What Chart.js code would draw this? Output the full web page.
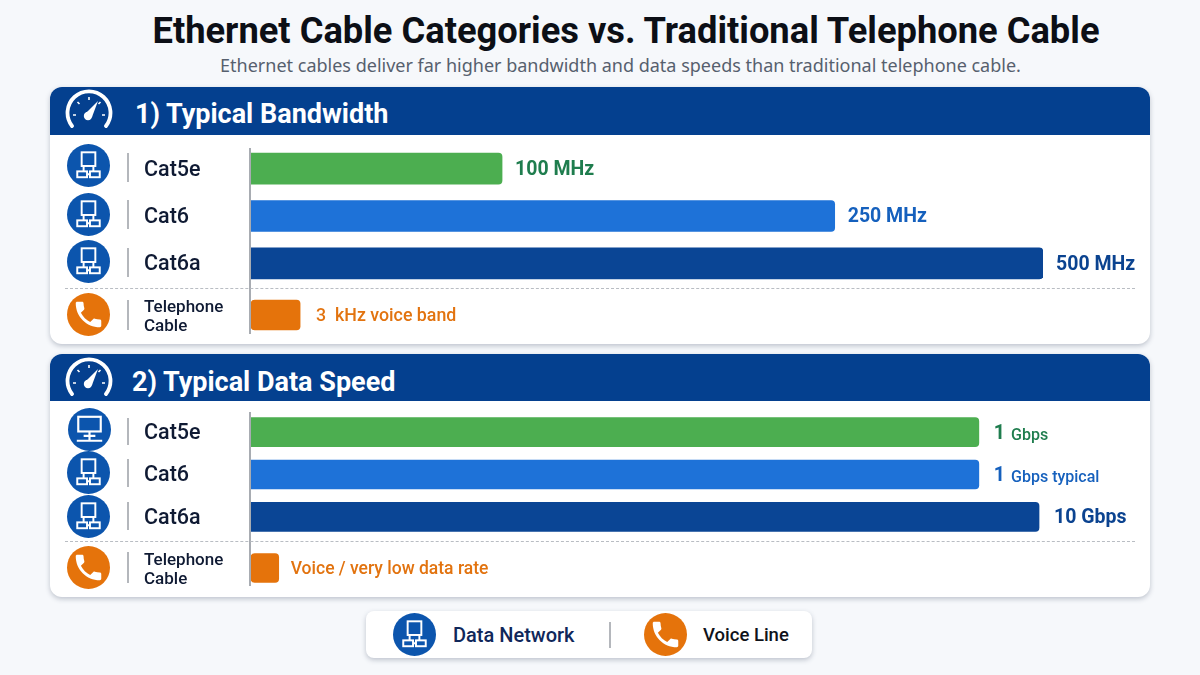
<!DOCTYPE html>
<html>
<head>
<meta charset="utf-8">
<title>Ethernet Cable Categories vs. Traditional Telephone Cable</title>
<script src="https://cdn.jsdelivr.net/npm/chart.js@4"></script>
<style>
  html, body { margin: 0; padding: 0; }
  body { width: 1200px; height: 675px; background: #f6f8fb; position: relative; overflow: hidden; font-family: Roboto, sans-serif; }
  h1 { position: absolute; left: 0; width: 1252px; top: 7px; margin: 0; text-align: center; font-size: 36.3px; line-height: 48px; font-weight: 700; color: #0c0f16; }
  .sub { position: absolute; left: 0; width: 1241px; top: 53px; text-align: center; font-family: "Noto Sans", sans-serif; font-size: 18px; line-height: 24px; color: #56606e; }
  .card { position: absolute; left: 50px; width: 1100px; background: #fff; border-radius: 12px; box-shadow: 0 2px 5px rgba(70,85,110,.32); }
  .head { position: absolute; left: 0; top: 0; width: 1100px; background: #04408f; border-radius: 12px 12px 0 0; color: #fff; font-size: 27px; font-weight: 700; }
  .head span { position: absolute; top: 0; }
  canvas { position: absolute; }
  .axis { position: absolute; left: 249px; width: 2px; background: #a8acb2; }
  .dash { position: absolute; left: 65px; width: 1070px; border-top: 1px dashed #b9bdc3; }
  .tick { position: absolute; left: 127px; width: 1.5px; background: #b4b7bc; }
  .legend { position: absolute; left: 366px; top: 611px; width: 446px; height: 47px; background: #fff; border-radius: 8px; box-shadow: 0 2px 5px rgba(70,85,110,.32); }
  .legtext { position: absolute; top: 622px; line-height: 26px; font-size: 20px; font-weight: 500; }
  svg { position: absolute; }
</style>
</head>
<body>
<h1>Ethernet Cable Categories vs. Traditional Telephone Cable</h1>
<div class="sub">Ethernet cables deliver far higher bandwidth and data speeds than traditional telephone cable.</div>

<div class="card" style="top:87px;height:257px"><div class="head" style="height:48px;line-height:54px"><span style="left:85px">1) Typical Bandwidth</span></div></div>
<div class="card" style="top:354px;height:243px"><div class="head" style="height:47px;line-height:56px"><span style="left:82px">2) Typical Data Speed</span></div></div>

<div class="axis" style="top:148px;height:186px"></div>
<div class="axis" style="top:412px;height:174px"></div>
<div class="dash" style="top:288px"></div>
<div class="dash" style="top:541px"></div>

<canvas id="bandNet" width="1006" height="142" style="left:144px;top:145px"></canvas>
<canvas id="bandTel" width="1006" height="46" style="left:144px;top:292px"></canvas>
<canvas id="speedNet" width="1006" height="127" style="left:144px;top:411px"></canvas>
<canvas id="speedTel" width="1006" height="46" style="left:144px;top:545px"></canvas>

<div class="legend"></div>
<div class="legtext" style="left:453px;color:#10275a">Data Network</div>
<div class="legtext" style="left:703px;color:#10131a;font-size:18.5px">Voice Line</div>
<div class="tick" style="left:609px;top:622px;height:26px"></div>

<script>
// bar lengths are display lengths as drawn (longest axis = 100), the picture is not to scale
const netCategories = ["Cat5e", "Cat6", "Cat6a"];
const telCategories = [["Telephone", "Cable"]];

const bandNetLengths = [31.7, 73.7, 100];
const bandTelLengths = [6.2];
const speedNetLengths = [91.9, 91.9, 99.5];
const speedTelLengths = [3.5];

const bandNetMain = ["100 MHz", "250 MHz", "500 MHz"];
const bandNetSub = ["", "", ""];
const bandTelMain = ["3  kHz voice band"];
const bandTelSub = [""];
const speedNetMain = ["1", "1", "10 Gbps"];
const speedNetSub = ["Gbps", "Gbps typical", ""];
const speedTelMain = ["Voice / very low data rate"];
const speedTelSub = [""];

const netBarColors = ["#4cae50", "#1e72d8", "#0a4595"];
const telBarColors = ["#e5730b"];
const netTextColors = ["#1f7d4e", "#1560bd", "#0b4390"];
const telTextColors = ["#e2730f"];

const FONT = 'Roboto, sans-serif';

// draws the text to the right of each bar
const valueLabels = {
    id: "valueLabels",
    afterDatasetsDraw(chart, args, opts) {
        const ctx = chart.ctx;
        const bars = chart.getDatasetMeta(0).data;
        ctx.save();
        ctx.textBaseline = "middle";
        ctx.textAlign = "left";
        bars.forEach((bar, i) => {
            let x = bar.x + opts.gap;
            const y = bar.y + 1.5;
            ctx.fillStyle = opts.colors[i];
            ctx.font = opts.weight + " " + opts.size + "px " + FONT;
            ctx.fillText(opts.main[i], x, y);
            if (opts.sub[i]) {
                x += ctx.measureText(opts.main[i]).width + 6;
                ctx.font = "500 16px " + FONT;
                ctx.fillText(opts.sub[i], x, y + 2);
            }
        });
        ctx.restore();
    }
};

function makeChart(id, labels, lengths, barColors, cfg) {
    return new Chart(document.getElementById(id), {
        type: "bar",
        data: {
            labels: labels,
            datasets: [{
                data: lengths,
                backgroundColor: barColors,
                barThickness: cfg.thickness,
                borderRadius: 4,
                borderSkipped: cfg.skipped
            }]
        },
        plugins: [valueLabels],
        options: {
            indexAxis: "y",
            responsive: false,
            animation: false,
            layout: { padding: { left: 0, right: 107, top: 0, bottom: 0 } },
            plugins: {
                legend: { display: false },
                tooltip: { enabled: false },
                valueLabels: {
                    main: cfg.main, sub: cfg.sub, colors: cfg.textColors,
                    size: cfg.size, weight: cfg.weight, gap: cfg.gap
                }
            },
            scales: {
                x: { display: false, min: 0, max: 100 },
                y: {
                    grid: { display: false },
                    border: { display: false },
                    afterFit(scale) {
                        // keep the rows filling the whole canvas height
                        scale.width = 107;
                        scale.paddingTop = 0;
                        scale.paddingBottom = 0;
                    },
                    afterUpdate(scale) {
                        // names sit a little below the middle of the bar
                        scale.getPixelForTick = function (i) {
                            return Object.getPrototypeOf(this).getPixelForTick.call(this, i) + cfg.tickShift;
                        };
                    },
                    ticks: {
                        autoSkip: false,
                        crossAlign: "far",
                        padding: 0,
                        color: "#0f1a33",
                        font: { family: FONT, size: cfg.tickSize, weight: "500", lineHeight: 1.12 }
                    }
                }
            }
        }
    });
}

makeChart("bandNet", netCategories, bandNetLengths, netBarColors, {
    thickness: 31, skipped: "start", main: bandNetMain, sub: bandNetSub, textColors: netTextColors,
    size: 19.5, weight: "700", gap: 13, tickSize: 21.5, tickShift: 1.5
});
makeChart("bandTel", telCategories, bandTelLengths, telBarColors, {
    thickness: 30, skipped: false, main: bandTelMain, sub: bandTelSub, textColors: telTextColors,
    size: 17.8, weight: "500", gap: 16, tickSize: 17, tickShift: 2.5
});
makeChart("speedNet", netCategories, speedNetLengths, netBarColors, {
    thickness: 29, skipped: "start", main: speedNetMain, sub: speedNetSub, textColors: netTextColors,
    size: 19.5, weight: "700", gap: 15, tickSize: 21.5, tickShift: 1.5
});
makeChart("speedTel", telCategories, speedTelLengths, telBarColors, {
    thickness: 29, skipped: false, main: speedTelMain, sub: speedTelSub, textColors: telTextColors,
    size: 17.5, weight: "500", gap: 12, tickSize: 17, tickShift: 2.5
});

// icons
const NET = '<rect x="15" y="8.5" width="14" height="14" fill="none" stroke="#fff" stroke-width="2"/>' +
    '<path d="M17 22.5V28M27 22.5V28M20.5 31H23.5" stroke="#fff" stroke-width="2" fill="none"/>' +
    '<rect x="10.5" y="28" width="10" height="6" fill="none" stroke="#fff" stroke-width="2"/>' +
    '<rect x="23.5" y="28" width="10" height="6" fill="none" stroke="#fff" stroke-width="2"/>';
const MON = '<rect x="10.5" y="9" width="23" height="15" fill="none" stroke="#fff" stroke-width="2.2"/>' +
    '<path d="M22 24V33M16 28.5H28M9 33.5H35" stroke="#fff" stroke-width="2.2" fill="none"/>';
const PHONE = '<g transform="translate(4.6 4.6) scale(1.45)"><path fill="#fff" d="M6.62 10.79c1.44 2.83 3.76 5.14 6.59 6.59l2.2-2.2c.27-.27.67-.36 1.02-.24 1.12.37 2.33.57 3.57.57.55 0 1 .45 1 1V20c0 .55-.45 1-1 1-9.39 0-17-7.61-17-17 0-.55.45-1 1-1h3.5c.55 0 1 .45 1 1 0 1.25.2 2.45.57 3.57.11.35.03.74-.25 1.02l-2.2 2.2z"/></g>';

function addIcon(kind, cx, cy, r) {
    const fill = kind === PHONE ? "#e5730b" : "#0c55ad";
    const svg = document.createElementNS("http://www.w3.org/2000/svg", "svg");
    svg.setAttribute("viewBox", "0 0 44 44");
    svg.setAttribute("width", r * 2);
    svg.setAttribute("height", r * 2);
    svg.style.left = (cx - r) + "px";
    svg.style.top = (cy - r) + "px";
    svg.innerHTML = '<circle cx="22" cy="22" r="22" fill="' + fill + '"/>' + kind;
    document.body.appendChild(svg);
}

function addGauge(cx, cy) {
    const svg = document.createElementNS("http://www.w3.org/2000/svg", "svg");
    svg.setAttribute("viewBox", "0 0 48 48");
    svg.setAttribute("width", 48);
    svg.setAttribute("height", 48);
    svg.style.left = (cx - 24) + "px";
    svg.style.top = (cy - 24) + "px";
    svg.innerHTML = '<path d="M7 38A21.5 21.5 0 1 1 41 38" fill="none" stroke="#fff" stroke-width="3.8" stroke-linecap="round"/>' +
        '<path d="M24 9V12M12.5 14L14.5 16M35.5 14L33.5 16M8 27H11M40 27H37" stroke="#fff" stroke-width="1.6"/>' +
        '<path d="M21 25L33 13L27 29Z" fill="#fff"/><circle cx="23" cy="28" r="4.2" fill="#fff"/>';
    document.body.appendChild(svg);
}

[[NET, 88.5, 165.5], [NET, 88.5, 214], [NET, 88.5, 261.5], [PHONE, 88.5, 314],
 [MON, 89, 429.5], [NET, 88, 472.5], [NET, 88.5, 516.5], [PHONE, 88, 567],
 [NET, 414, 634], [PHONE, 665, 634]].forEach(i => addIcon(i[0], i[1], i[2], 21.5));

addGauge(89, 112);
addGauge(89, 380);

// small separators between icon and category name
[[153, 29], [200, 29], [248, 29], [300, 30], [418, 27], [459, 28], [502, 28], [552, 31]].forEach(t => {
    const d = document.createElement("div");
    d.className = "tick";
    d.style.top = t[0] + "px";
    d.style.height = t[1] + "px";
    document.body.appendChild(d);
});
</script>
</body>
</html>
